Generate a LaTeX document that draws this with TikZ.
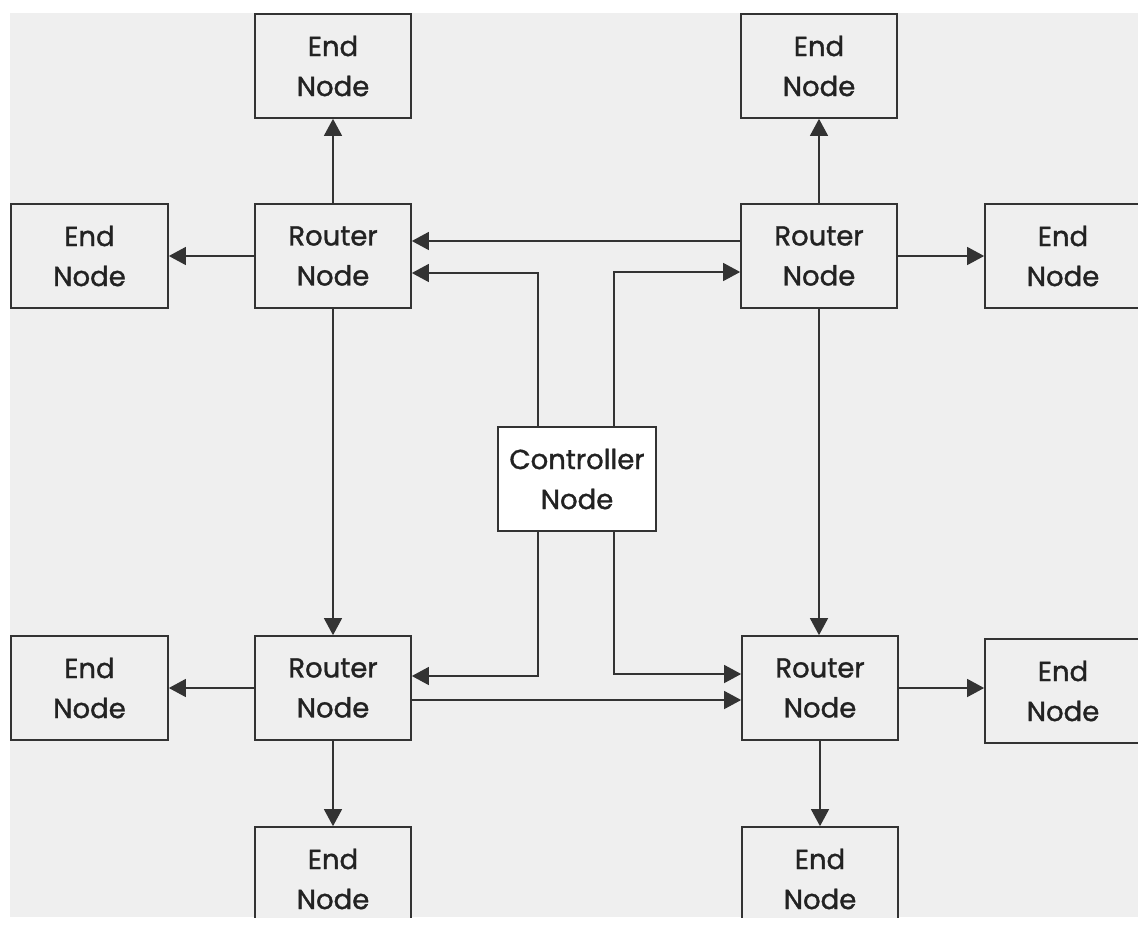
\documentclass[tikz,border=0pt]{standalone}
\usepackage{fontspec}
\setmainfont{Poppins}[FakeBold=1.2]
\usetikzlibrary{arrows.meta}
\definecolor{bg}{HTML}{EFEFEF}
\definecolor{ln}{HTML}{333333}
\definecolor{tx}{HTML}{222222}
\begin{document}
\begin{tikzpicture}[x=1pt,y=-1pt,
  box/.style={draw=ln, line width=1.7pt, fill=bg, minimum width=156pt, minimum height=104pt,
    inner sep=0pt, align=center, text=tx, font=\fontsize{27.5}{40}\selectfont},
  ctrlbox/.style={box, fill=white, minimum width=158pt},
  arr/.style={draw=ln, line width=1.4pt, -{Triangle[length=17pt,width=18pt]}}]
\useasboundingbox (0,0) rectangle (1138,926);
\fill[white] (0,0) rectangle (1138,926);
\begin{scope}
\clip (10,13) rectangle (1138,917);
\fill[bg] (10,13) rectangle (1138,917);
% nodes
\node[box] (etl) at (333,66) {End\\Node};
\node[box] (tl) at (333,256) {Router\\Node};
\node[box, minimum width=157pt] (el1) at (89.5,256) {End\\Node};
\node[box] (etr) at (819,66) {End\\Node};
\node[box] (tr) at (819,256) {Router\\Node};
\node[box] (er1) at (1063,256) {End\\Node};
\node[ctrlbox] (ctrl) at (577,479) {Controller\\Node};
\node[box] (bl) at (333,688) {Router\\Node};
\node[box, minimum width=157pt] (el2) at (89.5,688) {End\\Node};
\node[box] (ebl) at (333,879) {End\\Node};
\node[box] (br) at (820,688) {Router\\Node};
\node[box] (er2) at (1063,691) {End\\Node};
\node[box] (ebr) at (820,879) {End\\Node};
% connectors
\draw[arr] (tl.north) -- (etl.south);
\draw[arr] (tl.west) -- (el1.east);
\draw[arr] (tr.north) -- (etr.south);
\draw[arr] (tr.east) -- (er1.west);
\draw[arr] ([yshift=15pt]tr.west) -- ([yshift=15pt]tl.east);
\draw[arr] ([xshift=-39pt]ctrl.north) |- ([yshift=-17pt]tl.east);
\draw[arr] ([xshift=37pt]ctrl.north) |- ([yshift=-16pt]tr.west);
\draw[arr] (tl.south) -- (bl.north);
\draw[arr] (tr.south) -- (tr.south |- br.north);
\draw[arr] ([xshift=-39pt]ctrl.south) |- ([yshift=12pt]bl.east);
\draw[arr] ([xshift=37pt]ctrl.south) |- ([yshift=14pt]br.west);
\draw[arr] ([yshift=-12pt]bl.east) -- ([yshift=-12pt]br.west);
\draw[arr] (bl.west) -- (el2.east);
\draw[arr] (bl.south) -- (ebl.north);
\draw[arr] (br.east) -- (br.east -| er2.west);
\draw[arr] (br.south) -- (ebr.north);
\end{scope}
\end{tikzpicture}
\end{document}
